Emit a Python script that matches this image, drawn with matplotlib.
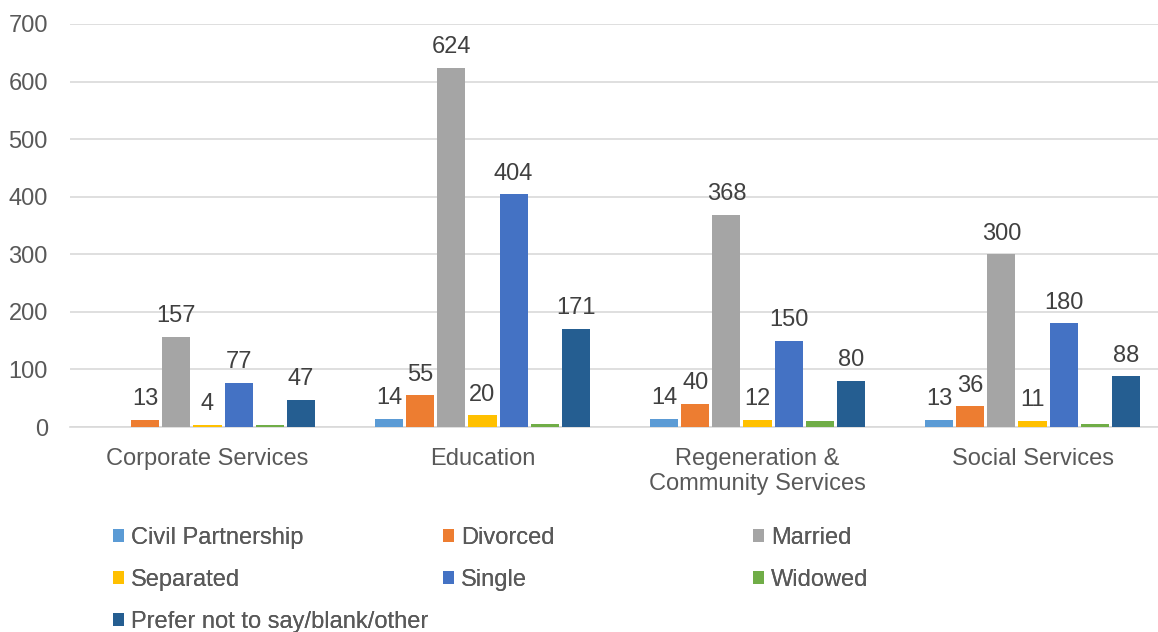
import numpy as np
import matplotlib
matplotlib.use("Agg")
import matplotlib.pyplot as plt

plt.rcParams['font.family'] = ['Liberation Sans', 'DejaVu Sans']

# data
departments = ["Corporate Services", "Education", "Regeneration &\nCommunity Services", "Social Services"]
civil_partnership = [np.nan, 14, 14, 13]
divorced = [13, 55, 40, 36]
married = [157, 624, 368, 300]
separated = [4, 20, 12, 11]
single = [77, 404, 150, 180]
widowed = [3, 5, 10, 6]
prefer_not = [47, 171, 80, 88]

series = [
    ("Civil Partnership", civil_partnership, "#5B9BD5", True),
    ("Divorced", divorced, "#ED7D31", True),
    ("Married", married, "#A5A5A5", True),
    ("Separated", separated, "#FFC000", True),
    ("Single", single, "#4472C4", True),
    ("Widowed", widowed, "#70AD47", False),
    ("Prefer not to say/blank/other", prefer_not, "#255E91", True),
]

FS = 17

fig = plt.figure(figsize=(11.58, 6.32), dpi=100)
ax = fig.add_axes([70 / 1158, (632 - 427) / 632, 1100 / 1158, 403 / 632])

x = np.arange(len(departments))
step = 0.113
width = 0.102
handles = {}
for i, (name, vals, col, show) in enumerate(series):
    pos = x + (i - 3) * step
    vals = np.array(vals, dtype=float)
    bars = ax.bar(pos, np.nan_to_num(vals), width, color=col, label=name, zorder=3)
    handles[name] = bars
    if show:
        for p, v in zip(pos, vals):
            if not np.isnan(v):
                ax.annotate(f"{int(v)}", (p, v), xytext=(0, 7), textcoords="offset points",
                            ha="center", va="bottom", fontsize=FS, color="#404040")

ax.set_xlim(-0.5, 3.5)
ax.set_ylim(0, 700)
ax.set_yticks(range(0, 701, 100))
ax.set_xticks(x)
ax.set_xticklabels(departments, linespacing=1.2)
ax.grid(axis="y", color="#D9D9D9", linewidth=1.2, zorder=0)
for s in ["top", "right", "left"]:
    ax.spines[s].set_visible(False)
ax.spines["bottom"].set_color("#D9D9D9")
ax.spines["bottom"].set_linewidth(1.2)
ax.tick_params(axis="y", length=0, pad=16, labelsize=FS, labelcolor="#595959")
ax.tick_params(axis="x", length=0, pad=15, labelsize=FS, labelcolor="#595959")

# legend laid out in three columns like the original
columns = [
    (["Civil Partnership", "Separated", "Prefer not to say/blank/other"], 113),
    (["Divorced", "Single"], 443),
    (["Married", "Widowed"], 753),
]
for names, xpix in columns:
    leg = fig.legend([handles[n] for n in names], names, loc="upper left",
                     bbox_to_anchor=(xpix / 1158, 1 - 527 / 632), frameon=False,
                     fontsize=FS, labelcolor="#595959", handlelength=0.47, handleheight=0.47,
                     handletextpad=0.3, labelspacing=0.85, borderaxespad=0, borderpad=0)
    fig.add_artist(leg)

fig.savefig("out.png", dpi=100)
